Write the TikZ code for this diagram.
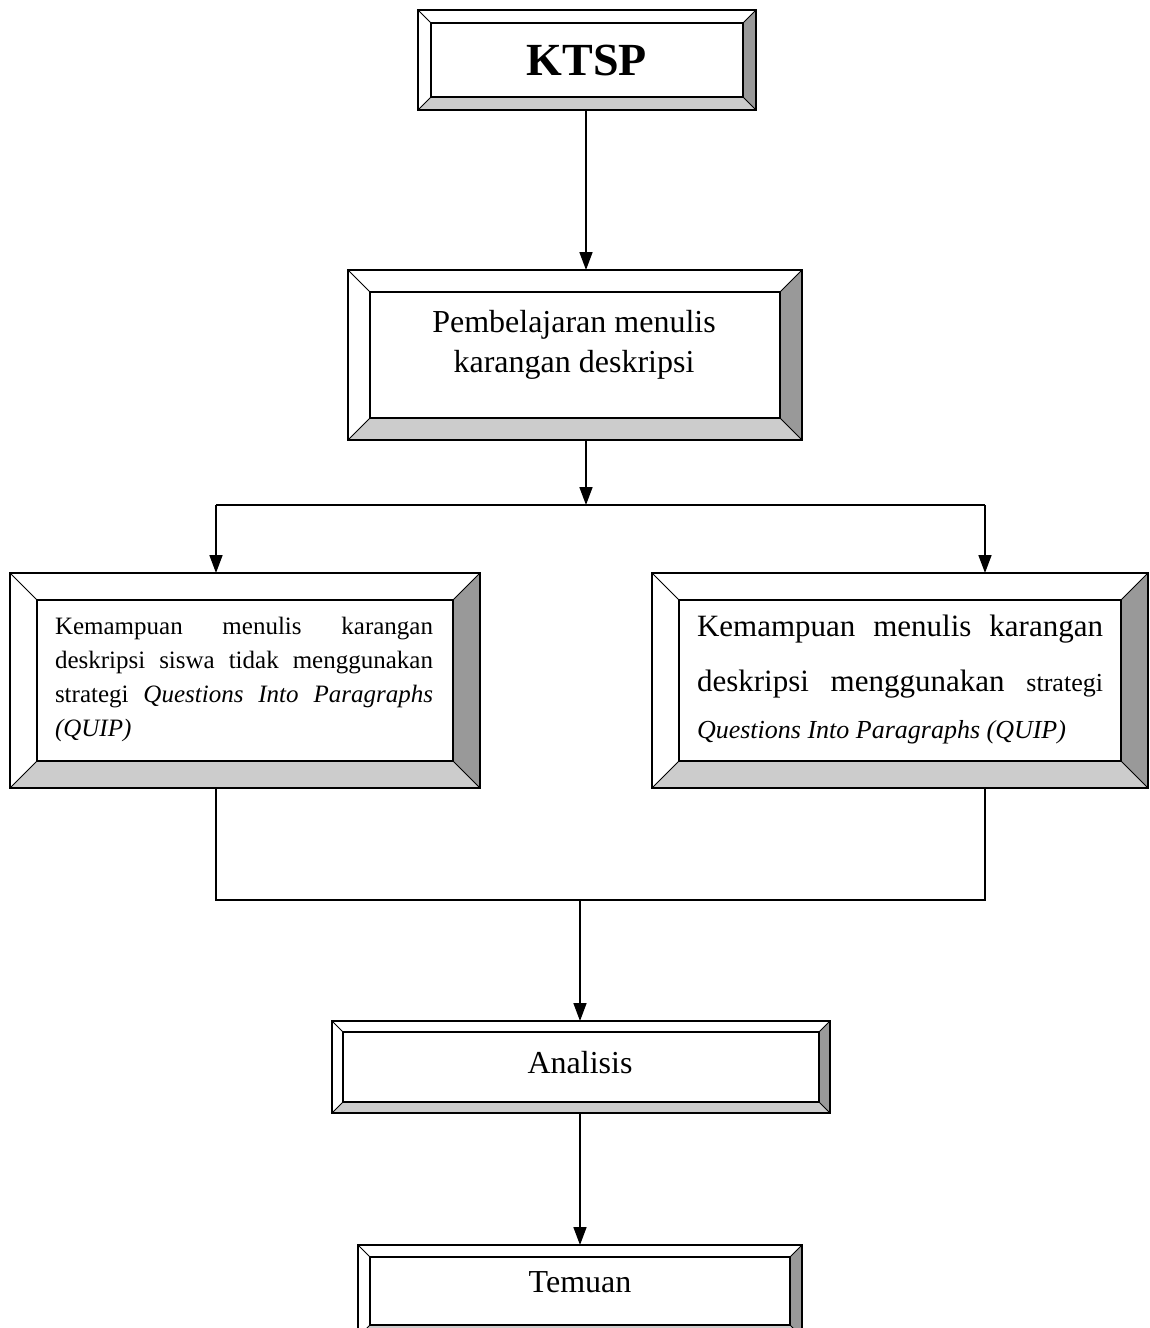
\documentclass[tikz,border=0pt]{standalone}
\usepackage{fontspec}
\setmainfont{Liberation Serif}
\usetikzlibrary{arrows.meta,calc}
\definecolor{bvdark}{HTML}{999999}
\definecolor{bvlight}{HTML}{CCCCCC}
\tikzset{
  bevbox/.style={fill=white, draw=none, inner sep=0pt, outer sep=0pt},
  conn/.style={line width=1.7pt},
  arr/.style={conn, -{Triangle[length=18pt,width=13pt]}},
  txt/.style={inner sep=0pt, font=\fontsize{32}{40}\selectfont},
}
\newcommand\bevelit[2]{%
  \fill[bvdark] (#1.north east) -- (#1.south east) -- ([shift={(-#2pt,#2pt)}]#1.south east) -- ([shift={(-#2pt,-#2pt)}]#1.north east) -- cycle;
  \fill[bvlight] (#1.south west) -- (#1.south east) -- ([shift={(-#2pt,#2pt)}]#1.south east) -- ([shift={(#2pt,#2pt)}]#1.south west) -- cycle;
  \draw[line width=0.8pt] (#1.north west) -- ([shift={(#2pt,-#2pt)}]#1.north west)
     (#1.north east) -- ([shift={(-#2pt,-#2pt)}]#1.north east)
     (#1.south west) -- ([shift={(#2pt,#2pt)}]#1.south west)
     (#1.south east) -- ([shift={(-#2pt,#2pt)}]#1.south east);
  \draw[line width=1.3pt] ([shift={(#2pt,-#2pt)}]#1.north west) rectangle ([shift={(-#2pt,#2pt)}]#1.south east);
  \draw[line width=2.2pt] (#1.north west) rectangle (#1.south east);
}
\newcommand\nohyph{\hyphenpenalty=10000\relax\exhyphenpenalty=10000\relax}
\begin{document}
\begin{tikzpicture}[x=1pt,y=-1pt]
\useasboundingbox (0,0) rectangle (1150,1328);
\clip (0,0) rectangle (1150,1328);
% boxes
\node[bevbox, minimum width=338pt, minimum height=100pt] (ktsp) at (587,60) {};
\bevelit{ktsp}{13}
\node[bevbox, minimum width=454pt, minimum height=170pt] (pemb) at (575,355) {};
\bevelit{pemb}{22}
\node[bevbox, minimum width=470pt, minimum height=215pt] (left) at (245,680.5) {};
\bevelit{left}{27}
\node[bevbox, minimum width=496pt, minimum height=215pt] (right) at (900,680.5) {};
\bevelit{right}{27}
\node[bevbox, minimum width=498pt, minimum height=92pt] (anal) at (581,1067) {};
\bevelit{anal}{11}
\node[bevbox, minimum width=444pt, minimum height=92pt] (tem) at (580,1291) {};
\bevelit{tem}{12}
% texts
\node[inner sep=0pt, font=\bfseries\fontsize{46}{50}\selectfont] (ktsp-t) at (587,60) {KTSP};
\node[txt, align=center] (pemb-t) at (574,345) {Pembelajaran menulis\\karangan deskripsi};
\node[inner sep=0pt, text width=378pt, align=justify,
      font=\fontsize{25}{34}\selectfont] (left-t) at (244,679)
  {\nohyph Kemampuan menulis karangan\linebreak deskripsi siswa tidak menggunakan\linebreak strategi \textit{Questions Into Paragraphs}\linebreak \textit{(QUIP)}};
\node[inner sep=0pt, text width=406pt, align=justify,
      font=\fontsize{31}{55}\selectfont] (right-t) at (900,680)
  {\nohyph {Kemampuan menulis karangan\linebreak deskripsi menggunakan {\fontsize{26}{55}\selectfont strategi}\parfillskip=0pt\relax\par}
   {\parfillskip=0pt plus 1fil\relax\fontsize{26}{47}\selectfont\itshape Questions Into Paragraphs (QUIP)\par}};
\node[txt] (anal-t) at (580,1063) {Analisis};
\node[txt] (tem-t) at (580,1282) {Temuan};
% connectors
\coordinate (sp) at (586,505);
\coordinate (lj) at (216,505);
\coordinate (rj) at (985,505);
\coordinate (lb) at (216,900);
\coordinate (rb) at (985,900);
\coordinate (mj) at (580,900);
\draw[arr] ([xshift=-1pt]ktsp.south) -- ([xshift=-1pt]ktsp.south |- pemb.north);
\draw[arr] (pemb.south -| sp) -- (sp);
\draw[conn] (lj) -- (rj);
\draw[arr] (lj) -- (lj |- left.north);
\draw[arr] (rj) -- (rj |- right.north);
\draw[conn] (lb |- left.south) -- (lb) -- (rb) -- (rb |- right.south);
\draw[arr] (mj) -- (mj |- anal.north);
\draw[arr] (anal.south -| mj) -- (mj |- tem.north);
\end{tikzpicture}
\end{document}
